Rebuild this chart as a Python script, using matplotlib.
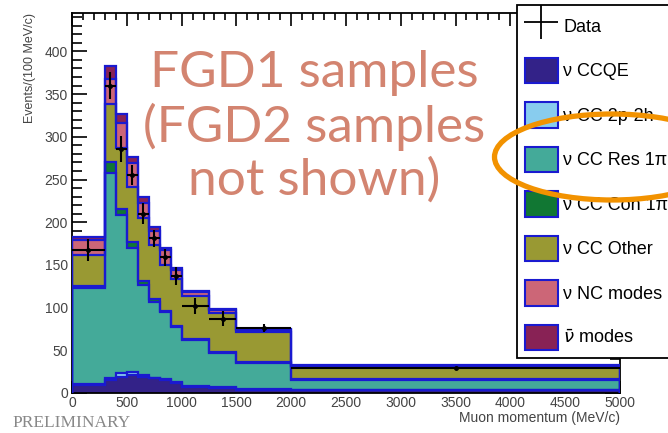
import matplotlib
matplotlib.use("Agg")
import matplotlib.pyplot as plt
import numpy as np
from matplotlib.patches import Patch, Ellipse
from matplotlib.lines import Line2D
from matplotlib.ticker import MultipleLocator

# bin edges in muon momentum (MeV/c)
edges = [0, 300, 400, 500, 600, 700, 800, 900, 1000, 1250, 1500, 2000, 5000]

# per-component event counts (Events / 100 MeV/c), bottom to top of the stack
ccqe = [9, 15, 19, 21, 19, 17, 15, 12, 7, 6, 4, 3]
cc2p2h = [1, 3, 4, 3, 2, 1, 1, 1, 1, 1, 1, 1]
ccres = [113, 240, 185, 146, 105, 88, 79, 64, 54, 40, 30, 11]
cccoh = [2, 13, 8, 7, 5, 4, 1, 1, 1, 1, 1, 1]
ccother = [37, 68, 71, 64, 74, 63, 54, 56, 50, 46, 36, 15]
ncmodes = [17, 29, 29, 28, 17, 17, 17, 10, 5, 3, 2, 1]
antinu = [4, 15, 11, 7, 7, 4, 3, 2, 1, 1, 1, 1]

data_y = [167, 360, 286, 255, 210, 181, 159, 137, 102, 87, 76, 29]
data_err = [13, 16, 15, 12, 12, 10, 10, 11, 9, 9, 5, 2]

labels = ["\u03bd CCQE", "\u03bd CC 2p-2h", "\u03bd CC Res 1\u03c0", "\u03bd CC Coh 1\u03c0",
          "\u03bd CC Other", "\u03bd NC modes", r"$\bar{\nu}$ modes"]
colors = ["#332288", "#88CCEE", "#44AA99", "#117733", "#999933", "#CC6677", "#882255"]
outline = "#1a1ad0"

plt.rcParams['font.family'] = ['Liberation Sans', 'DejaVu Sans']

fig = plt.figure(figsize=(6.68, 4.33), dpi=100)
ax = fig.add_axes([0.1078, 0.0924, 0.8202, 0.8776])

components = [ccqe, cc2p2h, ccres, cccoh, ccother, ncmodes, antinu]
cum = np.cumsum(np.array(components, dtype=float), axis=0)

# draw from the top layer down so lower layers sit in front
for k in range(len(components) - 1, -1, -1):
    ax.stairs(cum[k], edges, fill=True, color=colors[k], zorder=2)
for k in range(len(components) - 1, -1, -1):
    ax.stairs(cum[k], edges, color=outline, lw=1.6, zorder=3)

e = np.array(edges, dtype=float)
centers = (e[:-1] + e[1:]) / 2
halfw = (e[1:] - e[:-1]) / 2
ax.errorbar(centers, data_y, xerr=halfw, yerr=data_err, fmt='o', ms=2.5,
            color='black', ecolor='black', elinewidth=1.5, capsize=0, zorder=5)

ax.set_xlim(0, 5000)
ax.set_ylim(0, 445)
ax.xaxis.set_major_locator(MultipleLocator(500))
ax.xaxis.set_minor_locator(MultipleLocator(100))
ax.yaxis.set_major_locator(MultipleLocator(50))
ax.yaxis.set_minor_locator(MultipleLocator(10))
ax.tick_params(axis='both', which='both', direction='in', top=True, right=True,
               width=1.2, labelsize=10, labelcolor='#444444')
ax.tick_params(axis='y', which='major', length=11, pad=3)
ax.tick_params(axis='y', which='minor', length=7)
ax.tick_params(axis='x', which='major', length=9, pad=2)
ax.tick_params(axis='x', which='minor', length=5)
for s in ax.spines.values():
    s.set_linewidth(1.3)

ax.set_xlabel("Muon momentum (MeV/c)", loc='right', fontsize=10, color='#444444', labelpad=1)
ax.set_ylabel("Events/(100 MeV/c)", loc='top', fontsize=9, color='#444444', labelpad=6)

handles = [Line2D([], [], color='black', marker='+', markersize=24, mew=1.3, ls='none')]
handles += [Patch(facecolor=c, edgecolor=outline, lw=1.5) for c in colors]
leg = fig.legend(handles, ["Data"] + labels, loc='upper left',
                 bbox_to_anchor=(517 / 668, 1 - 5 / 433), borderaxespad=0,
                 fontsize=13, handlelength=1.8, handleheight=1.8, labelspacing=1.05,
                 handletextpad=0.3, borderpad=0.45, fancybox=False, framealpha=1,
                 edgecolor='black')
leg.get_frame().set_linewidth(1.3)

fig.text(314 / 668, 1 - 50 / 433, "FGD1 samples\n(FGD2 samples\nnot shown)",
         ha='center', va='top', multialignment='center', fontsize=37,
         family='Lato', color='#d38470', linespacing=1.17)

fig.text(12 / 668, 1 - 431 / 433, "PRELIMINARY", family='Liberation Serif',
         fontsize=12.5, color='#888888', ha='left', va='bottom')

ell = Ellipse((612 / 668, 1 - 157 / 433), 235 / 668, 86 / 433, transform=fig.transFigure,
              fill=False, ec='#f29200', lw=3.8, zorder=10)
fig.add_artist(ell)

fig.savefig("out.png", dpi=100)
